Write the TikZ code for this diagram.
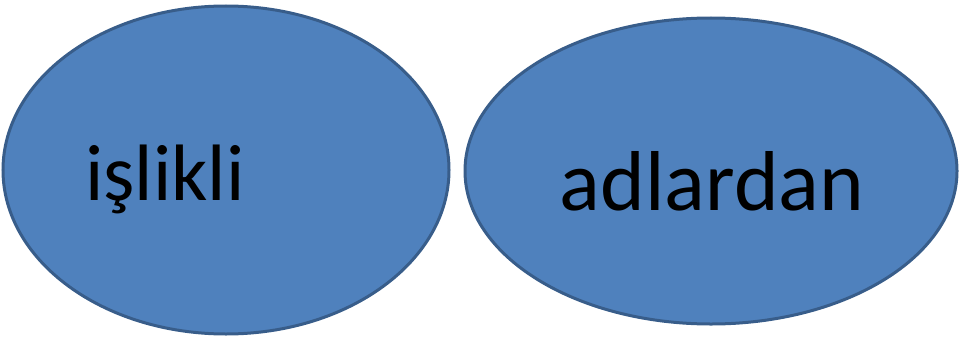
\documentclass[tikz,border=0pt]{standalone}
\usepackage{fontspec}
\setmainfont{Carlito}
\usetikzlibrary{shapes.geometric}
\definecolor{fillblue}{HTML}{4F81BD}
\definecolor{edgeblue}{HTML}{385D8A}
\tikzset{
  blob/.style={ellipse, draw=edgeblue, fill=fillblue, line width=3pt, inner sep=0pt},
  word/.style={font=\fontsize{80}{96}\selectfont, text=black, inner sep=0pt}
}
\begin{document}
\begin{tikzpicture}[x=1pt,y=1pt]
\useasboundingbox (0,0) rectangle (960,341);
\node[blob, minimum width=446pt, minimum height=328pt] (left) at (226,171) {};
\node[blob, minimum width=492pt, minimum height=306pt] (right) at (711,170) {};
\node[word, anchor=base west] (w1) at (85,141) {işlikli};
\node[word, font=\fontsize{85}{100}\selectfont, anchor=base] (w2) at (712,131) {adlardan};
\end{tikzpicture}
\end{document}
